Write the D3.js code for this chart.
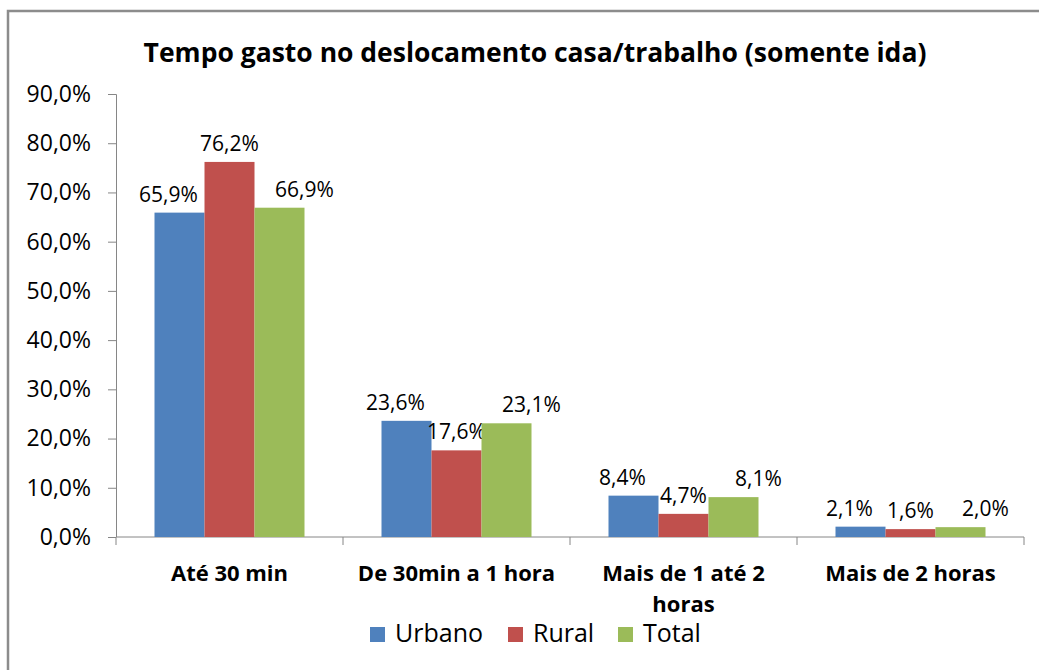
<!DOCTYPE html>
<html>
<head>
<meta charset="utf-8">
<script src="https://d3js.org/d3.v7.min.js"></script>
<style>
  body { margin: 0; background: #fff; }
  text { font-family: "Open Sans", "Liberation Sans", Arial, sans-serif; fill: #000; }
</style>
</head>
<body>
<div id="chart"></div>
<script>
// Data
const categories = ["Até 30 min", "De 30min a 1 hora", "Mais de 1 até 2 horas", "Mais de 2 horas"];
const series = ["Urbano", "Rural", "Total"];
const urbano = [65.9, 23.6, 8.4, 2.1];
const rural = [76.2, 17.6, 4.7, 1.6];
const total = [66.9, 23.1, 8.1, 2.0];
const yTicks = [0, 10, 20, 30, 40, 50, 60, 70, 80, 90];

const colors = ["#4f81bd", "#c0504d", "#9bbb59"];
const values = [urbano, rural, total];

const width = 1039, height = 670;

const svg = d3.select("#chart").append("svg")
  .attr("width", width)
  .attr("height", height);

// outer frame (runs off the right/bottom edge like the screenshot)
svg.append("rect")
  .attr("x", 8).attr("y", 11)
  .attr("width", width + 20).attr("height", height + 20)
  .attr("fill", "none")
  .attr("stroke", "#8c8c8c")
  .attr("stroke-width", 2.5);

svg.append("text")
  .attr("x", 535).attr("y", 62)
  .attr("text-anchor", "middle")
  .attr("font-size", 26.5)
  .attr("font-weight", "bold")
  .text("Tempo gasto no deslocamento casa/trabalho (somente ida)");

const x = d3.scaleBand()
  .domain(categories)
  .range([116, 1024])
  .paddingInner(0)
  .paddingOuter(0);

const x1 = d3.scaleBand()
  .domain(series)
  .range([0, x.bandwidth()])
  .paddingOuter(0.77)
  .paddingInner(0);

const y = d3.scaleLinear()
  .domain([0, 90])
  .range([537, 94]);

const fmt = v => d3.format(".1f")(v).replace(".", ",") + "%";

// y axis
const yAxis = svg.append("g")
  .attr("transform", "translate(116,0)")
  .call(d3.axisLeft(y).tickValues(yTicks).tickSize(8).tickPadding(17).tickFormat(fmt));
yAxis.selectAll("text").attr("font-size", 23).attr("fill", "#000");
yAxis.selectAll("line").attr("stroke", "#868686");
yAxis.select(".domain").attr("stroke", "#868686").attr("d", "M-8,94.5H0.5V537");

// x axis
const xAxis = svg.append("g")
  .attr("transform", "translate(0,537)");
xAxis.append("line")
  .attr("x1", 116).attr("x2", 1024)
  .attr("stroke", "#868686").attr("stroke-width", 1);
xAxis.selectAll("line.tick")
  .data(categories.concat([null]))
  .join("line")
  .attr("class", "tick")
  .attr("x1", (d, i) => i < categories.length ? x(d) : x.range()[1])
  .attr("x2", (d, i) => i < categories.length ? x(d) : x.range()[1])
  .attr("y1", 0).attr("y2", 8)
  .attr("stroke", "#868686");

// category labels, wrapped like Excel
const catLines = {
  "Mais de 1 até 2 horas": ["Mais de 1 até 2", "horas"]
};
categories.forEach(c => {
  const lines = catLines[c] || [c];
  const t = svg.append("text")
    .attr("x", x(c) + x.bandwidth() / 2)
    .attr("y", 581)
    .attr("text-anchor", "middle")
    .attr("font-size", 22)
    .attr("font-weight", "bold");
  lines.forEach((l, i) => {
    t.append("tspan")
      .attr("x", x(c) + x.bandwidth() / 2)
      .attr("dy", i === 0 ? 0 : 31)
      .text(l);
  });
});

// bars
const labelShift = [-11, 0, 25];
series.forEach((s, si) => {
  const g = svg.append("g");
  g.selectAll("rect")
    .data(values[si])
    .join("rect")
    .attr("x", (d, i) => x(categories[i]) + x1(s))
    .attr("y", d => y(d))
    .attr("width", x1.bandwidth())
    .attr("height", d => y(0) - y(d))
    .attr("fill", colors[si]);
  g.selectAll("text")
    .data(values[si])
    .join("text")
    .attr("x", (d, i) => x(categories[i]) + x1(s) + x1.bandwidth() / 2 + labelShift[si])
    .attr("y", d => y(d) - 11)
    .attr("text-anchor", "middle")
    .attr("font-size", 21)
    .text(fmt);
});

// legend
const legend = svg.append("g").attr("transform", "translate(370,634)");
const legendX = [0, 138, 248];
series.forEach((s, i) => {
  legend.append("rect")
    .attr("x", legendX[i]).attr("y", -7)
    .attr("width", 15).attr("height", 15)
    .attr("fill", colors[i]);
  legend.append("text")
    .attr("x", legendX[i] + 25).attr("y", 0)
    .attr("dominant-baseline", "middle")
    .attr("dy", 1)
    .attr("font-size", 25)
    .text(s);
});
</script>
</body>
</html>
